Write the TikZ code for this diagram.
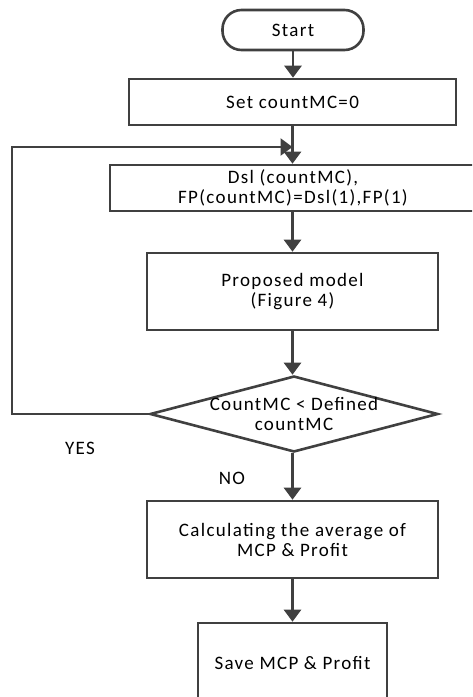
\documentclass[tikz,border=0pt]{standalone}
\usepackage{fontspec}
\setmainfont[LetterSpace=7]{Carlito}
\usetikzlibrary{arrows.meta,shapes.geometric}
\definecolor{ln}{HTML}{404040}
\tikzset{
  box/.style={draw=ln, line width=2.6pt, rectangle, inner sep=0pt, align=center, font=\fontsize{19}{20}\selectfont},
  lbl/.style={inner sep=0pt, align=center, font=\fontsize{19}{20}\selectfont},
  arr/.style={draw=ln, line width=2.6pt, -{Triangle[width=17pt,length=12pt]}},
  lin/.style={draw=ln, line width=2.6pt}
}
\begin{document}
\begin{tikzpicture}[x=1pt,y=-1pt]
\useasboundingbox (0,0) rectangle (472,697);
\clip (0,0) rectangle (472,697);
\node[box, rounded corners=19pt, minimum width=141pt, minimum height=40pt] (start) at (293,30) {Start};
\node[box, minimum width=327pt, minimum height=46pt] (set) at (292.5,102) {Set countMC=0};
\node[box, minimum width=366pt, minimum height=46pt] (dsl) at (293,188) {Dsl (countMC),\\FP(countMC)=Dsl(1),FP(1)};
\node[box, minimum width=291pt, minimum height=77pt] (prop) at (292.5,291.5) {Proposed model\\(Figure 4)};
\node[draw=ln, line width=2.6pt, diamond, inner sep=0pt, minimum width=288pt, minimum height=76pt] (dec) at (294,414) {};
\node[lbl] (dect) at (294,414) {CountMC < Defined\\countMC};
\node[box, minimum width=291pt, minimum height=77pt] (calc) at (292.5,539.5) {Calculating the average of\\MCP \& Profit};
\node[box, minimum width=189pt, minimum height=80pt] (save) at (292.5,663) {Save MCP \& Profit};
\node[lbl] (yes) at (80,448) {YES};
\node[lbl] (no) at (232,478) {NO};
\coordinate (lc) at (12,147);
\draw[arr] (start.south) -- (start.south |- set.north);
\draw[arr] (set.south) -- (set.south |- dsl.north);
\draw[arr] (dec.west) -| (lc) -- (set.south |- lc);
\draw[arr] (set.south |- dsl.south) -- (set.south |- prop.north);
\draw[arr] (prop.south) -- (prop.south |- dec.north);
\draw[arr] (prop.south |- dec.south) -- (prop.south |- calc.north);
\draw[arr] (calc.south) -- (calc.south |- save.north);
\end{tikzpicture}
\end{document}
